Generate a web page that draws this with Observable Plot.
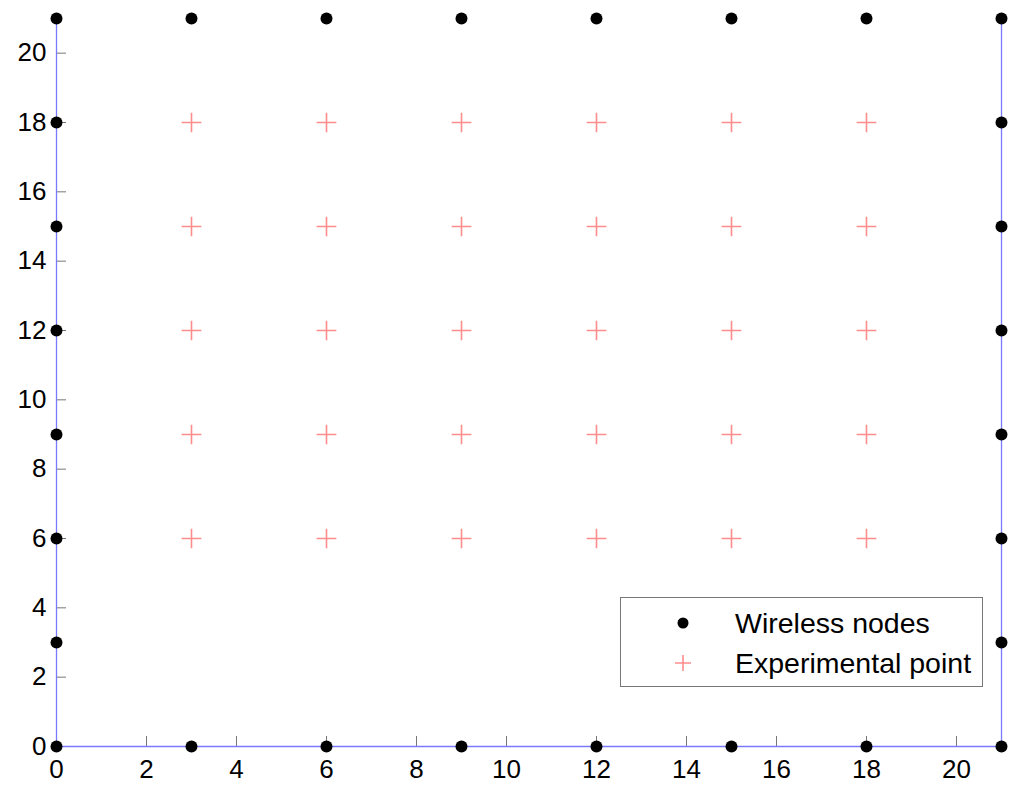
<!DOCTYPE html>
<html>
<head>
<meta charset="utf-8">
<script src="https://cdn.jsdelivr.net/npm/d3@7"></script>
<script src="https://cdn.jsdelivr.net/npm/@observablehq/plot@0.6"></script>
<style>
  body { margin: 0; background: #fff; font-family: "Liberation Sans", Arial, sans-serif; }
  #wrap { position: relative; width: 1024px; height: 797px; }
  #legend { position: absolute; left: 620px; top: 597px; width: 363px; height: 90px;
    border: 1px solid #777; background: #fff; box-sizing: border-box; }
  .item { position: absolute; left: 0; display: flex; align-items: center; height: 40px;
    font-size: 28.5px; color: #000; white-space: nowrap; }
  .item svg { margin-left: 49px; margin-right: 39px; }
</style>
</head>
<body>
<div id="wrap"></div>
<script>
// Wireless nodes (perimeter)
const nodeX = [0, 3, 6, 9, 12, 15, 18, 21,   0, 3, 6, 9, 12, 15, 18, 21,   0, 0, 0, 0, 0, 0,   21, 21, 21, 21, 21, 21];
const nodeY = [0, 0, 0, 0, 0, 0, 0, 0,   21, 21, 21, 21, 21, 21, 21, 21,   3, 6, 9, 12, 15, 18,   3, 6, 9, 12, 15, 18];
// Experimental points grid
const expXs = [3, 6, 9, 12, 15, 18];
const expYs = [6, 9, 12, 15, 18];
// Boundary (blue line)
const boundX = [0, 0, 21, 21];
const boundY = [21, 0, 0, 21];
// Ticks
const xTicks = [0, 2, 4, 6, 8, 10, 12, 14, 16, 18, 20];
const yTicks = [0, 2, 4, 6, 8, 10, 12, 14, 16, 18, 20];
const legendLabels = ["Wireless nodes", "Experimental point"];

const nodes = nodeX.map((x, i) => ({x, y: nodeY[i]}));
const exps = [];
for (const y of expYs) for (const x of expXs) exps.push({x, y});
const bound = boundX.map((x, i) => ({x, y: boundY[i]}));

const chart = Plot.plot({
  width: 1024,
  height: 797,
  marginLeft: 56,
  marginRight: 23,
  marginTop: 18,
  marginBottom: 51,
  style: {fontFamily: "Liberation Sans, Arial, sans-serif", fontSize: "26px", color: "#000", background: "#fff"},
  x: {domain: [0, 21], label: null},
  y: {domain: [0, 21], label: null},
  marks: [
    Plot.axisX({ticks: xTicks, tickSize: -10, text: null, stroke: "#777", strokeOpacity: 1, label: null}),
    Plot.axisX({ticks: xTicks, tickSize: 0, tickPadding: 13, fontSize: 26, fill: "#000", label: null}),
    Plot.axisY({ticks: yTicks, tickSize: -10, text: null, stroke: "#777", strokeOpacity: 1, label: null}),
    Plot.axisY({ticks: yTicks, tickSize: 0, tickPadding: 10, fontSize: 26, fill: "#000", label: null}),
    Plot.line(bound, {x: "x", y: "y", stroke: "#7a7aff", strokeWidth: 1.3}),
    Plot.dot(exps, {x: "x", y: "y", symbol: "plus", r: 6.4, stroke: "#ff0000", strokeOpacity: 0.45, strokeWidth: 1.6}),
    Plot.dot(nodes, {x: "x", y: "y", r: 6, fill: "#000", stroke: "none"})
  ]
});

const wrap = document.getElementById("wrap");
wrap.appendChild(chart);

const legend = document.createElement("div");
legend.id = "legend";
legend.innerHTML = `
  <div class="item" style="top:5px"><svg width="26" height="26"><circle cx="13" cy="13" r="5.5" fill="#000"/></svg><span>${legendLabels[0]}</span></div>
  <div class="item" style="top:45px"><svg width="26" height="26"><path d="M5,13H21M13,5V21" stroke="#ff0000" stroke-opacity="0.45" stroke-width="1.6"/></svg><span>${legendLabels[1]}</span></div>`;
wrap.appendChild(legend);
</script>
</body>
</html>
